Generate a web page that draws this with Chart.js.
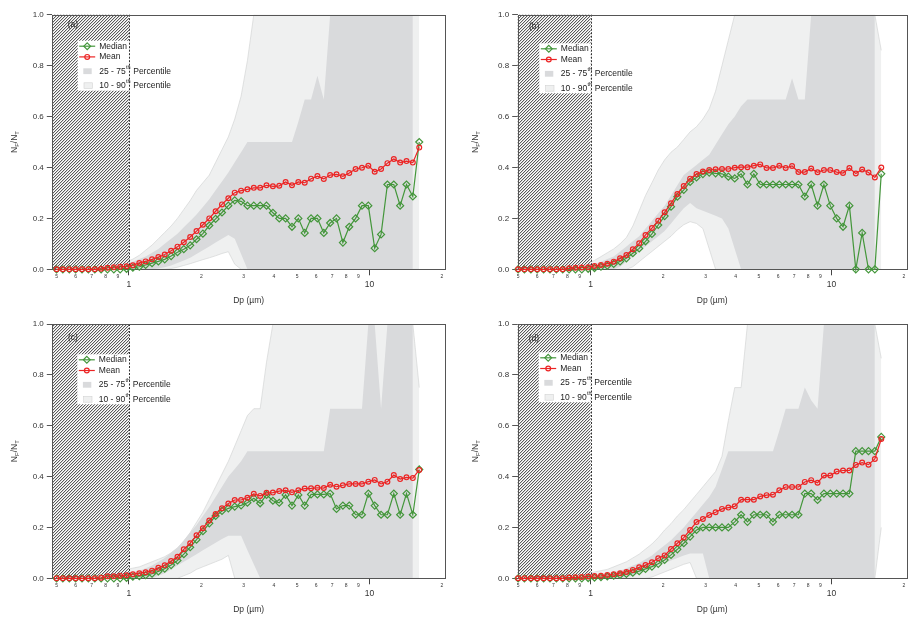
<!DOCTYPE html>
<html>
<head>
<meta charset="utf-8">
<script src="https://cdn.jsdelivr.net/npm/chart.js@4.4.1/dist/chart.umd.min.js"></script>
<style>
  html, body { margin: 0; padding: 0; background: #fff; }
  #wrap { position: relative; width: 912px; height: 619px; }
  #wrap canvas { position: absolute; }
</style>
</head>
<body>
<div id="wrap">
  <canvas id="pa" width="456" height="310" style="left:0;top:0"></canvas>
  <canvas id="pb" width="456" height="310" style="left:456px;top:0"></canvas>
  <canvas id="pc" width="456" height="309" style="left:0;top:310px"></canvas>
  <canvas id="pd" width="456" height="309" style="left:456px;top:310px"></canvas>
</div>
<script>
const FONT = '"Liberation Sans", Arial, sans-serif';
const GREEN = '#43963a';
const RED = '#ec2424';
const LIGHT = '#eff0f0';
const DARK = '#d9dadc';

// size bins, µm
const dp = [
  0.500, 0.531, 0.565, 0.600, 0.638, 0.678, 0.721, 0.766, 0.814, 0.865, 0.919, 0.977,
  1.038, 1.104, 1.173, 1.247, 1.325, 1.408, 1.497, 1.591, 1.690, 1.797, 1.909, 2.029,
  2.157, 2.292, 2.436, 2.589, 2.752, 2.925, 3.108, 3.303, 3.511, 3.731, 3.966, 4.215,
  4.480, 4.761, 5.060, 5.378, 5.715, 6.074, 6.456, 6.861, 7.292, 7.750, 8.237, 8.754,
  9.304, 9.888, 10.51, 11.17, 11.87, 12.62, 13.41, 14.25, 15.14, 16.10
];
const xTicks = [0.5, 0.6, 0.7, 0.8, 0.9, 1, 2, 3, 4, 5, 6, 7, 8, 9, 10, 20];

// (a)
const meanA = [
  0, 0, 0, 0, 0, 0, 0, 0.002, 0.006, 0.008, 0.010, 0.012,
  0.016, 0.025, 0.031, 0.039, 0.048, 0.058, 0.073, 0.089, 0.106, 0.127, 0.150, 0.175,
  0.200, 0.228, 0.255, 0.279, 0.301, 0.309, 0.314, 0.320, 0.320, 0.330, 0.326, 0.328,
  0.343, 0.330, 0.343, 0.340, 0.356, 0.366, 0.355, 0.370, 0.373, 0.365, 0.378, 0.394,
  0.399, 0.407, 0.383, 0.394, 0.417, 0.433, 0.419, 0.425, 0.419, 0.478
];
const medianA = [
  0, 0, 0, 0, 0, 0, 0, 0, 0, 0, 0, 0.002,
  0.006, 0.010, 0.017, 0.024, 0.031, 0.039, 0.052, 0.067, 0.079, 0.094, 0.118, 0.140,
  0.172, 0.198, 0.223, 0.250, 0.271, 0.267, 0.250, 0.250, 0.250, 0.250, 0.222, 0.200,
  0.200, 0.167, 0.200, 0.143, 0.200, 0.200, 0.143, 0.182, 0.200, 0.105, 0.167, 0.200,
  0.250, 0.250, 0.083, 0.137, 0.333, 0.333, 0.250, 0.333, 0.286, 0.500
];
const p10A = [
  0, 0, 0, 0, 0, 0, 0, 0, 0, 0, 0, 0,
  0, 0, 0, 0, 0, 0, 0.003, 0.008, 0.015, 0.022, 0.030, 0.038,
  0.045, 0.053, 0.062, 0.069, 0.020, 0, 0, 0, 0, 0, 0, 0,
  0, 0, 0, 0, 0, 0, 0, 0, 0, 0, 0, 0,
  0, 0, 0, 0, 0, 0, 0, 0, 0, 0
];
const p25A = [
  0, 0, 0, 0, 0, 0, 0, 0, 0, 0, 0, 0,
  0, 0, 0, 0, 0.003, 0.008, 0.015, 0.025, 0.035, 0.045, 0.060, 0.075,
  0.090, 0.105, 0.120, 0.135, 0.120, 0.060, 0, 0, 0, 0, 0, 0,
  0, 0, 0, 0, 0, 0, 0, 0, 0, 0, 0, 0,
  0, 0, 0, 0, 0, 0, 0, 0, 0, null
];
const p75A = [
  0, 0, 0, 0, 0, 0, 0, 0.005, 0.010, 0.015, 0.020, 0.025,
  0.030, 0.040, 0.050, 0.065, 0.080, 0.100, 0.120, 0.140, 0.165, 0.190, 0.215, 0.245,
  0.275, 0.310, 0.345, 0.380, 0.420, 0.460, 0.5, 0.5, 0.5, 0.5, 0.5, 0.5,
  0.5, 0.5, 0.58, 0.667, 0.667, 0.76, 0.667, 1, 1, 1, 1, 1,
  1, 1, 1, 1, 1, 1, 1, 1, 1, null
];
const p90A = [
  0, 0, 0, 0, 0, 0, 0.005, 0.010, 0.015, 0.020, 0.025, 0.030,
  0.040, 0.055, 0.075, 0.095, 0.120, 0.145, 0.170, 0.200, 0.235, 0.270, 0.310, 0.340,
  0.370, 0.420, 0.470, 0.520, 0.590, 0.680, 0.820, 1, 1, 1, 1, 1,
  1, 1, 1, 1, 1, 1, 1, 1, 1, 1, 1, 1,
  1, 1, 1, 1, 1, 1, 1, 1, 1, 1
];

// (b)
const meanB = [
  0, 0, 0, 0, 0, 0, 0, 0, 0.004, 0.006, 0.007, 0.008,
  0.013, 0.017, 0.022, 0.030, 0.043, 0.056, 0.079, 0.102, 0.135, 0.162, 0.191, 0.224,
  0.259, 0.296, 0.327, 0.356, 0.374, 0.384, 0.390, 0.393, 0.394, 0.394, 0.399, 0.401,
  0.401, 0.407, 0.412, 0.398, 0.398, 0.407, 0.398, 0.406, 0.382, 0.382, 0.396, 0.381,
  0.390, 0.390, 0.382, 0.378, 0.398, 0.376, 0.392, 0.380, 0.361, 0.400
];
const medianB = [
  0, 0, 0, 0, 0, 0, 0, 0, 0, 0, 0, 0.002,
  0.005, 0.010, 0.014, 0.021, 0.031, 0.043, 0.063, 0.082, 0.110, 0.139, 0.174, 0.209,
  0.246, 0.285, 0.312, 0.343, 0.361, 0.374, 0.380, 0.377, 0.375, 0.364, 0.357, 0.375,
  0.333, 0.375, 0.333, 0.333, 0.333, 0.333, 0.333, 0.333, 0.333, 0.286, 0.333, 0.250,
  0.333, 0.250, 0.200, 0.167, 0.250, 0, 0.143, 0, 0, 0.375
];
const p10B = [
  0, 0, 0, 0, 0, 0, 0, 0, 0, 0, 0, 0,
  0, 0, 0, 0, 0, 0, 0.010, 0.030, 0.050, 0.070, 0.090, 0.110,
  0.130, 0.155, 0.175, 0.187, 0.180, 0.160, 0.080, 0, 0, 0, 0, 0,
  0, 0, 0, 0, 0, 0, 0, 0, 0, 0, 0, 0,
  0, 0, 0, 0, 0, 0, 0, 0, 0, 0
];
const p25B = [
  0, 0, 0, 0, 0, 0, 0, 0, 0, 0, 0, 0,
  0, 0, 0, 0, 0.010, 0.030, 0.050, 0.070, 0.090, 0.110, 0.130, 0.150,
  0.180, 0.210, 0.240, 0.260, 0.240, 0.230, 0.220, 0.210, 0.200, 0.160, 0.080, 0,
  0, 0, 0, 0, 0, 0, 0, 0, 0, 0, 0, 0,
  0, 0, 0, 0, 0, 0, 0, 0, 0, null
];
const p75B = [
  0, 0, 0, 0, 0, 0, 0, 0.004, 0.008, 0.010, 0.012, 0.015,
  0.020, 0.030, 0.040, 0.050, 0.070, 0.090, 0.110, 0.130, 0.160, 0.190, 0.220, 0.250,
  0.290, 0.330, 0.370, 0.390, 0.410, 0.430, 0.450, 0.490, 0.530, 0.570, 0.600, 0.640,
  0.667, 0.667, 0.667, 0.667, 0.667, 0.667, 0.667, 0.75, 0.667, 0.667, 1, 1,
  1, 1, 1, 1, 1, 1, 1, 1, 1, null
];
const p90B = [
  0, 0, 0, 0, 0, 0, 0.004, 0.008, 0.012, 0.016, 0.020, 0.025,
  0.035, 0.050, 0.065, 0.080, 0.100, 0.125, 0.170, 0.230, 0.290, 0.340, 0.390, 0.430,
  0.460, 0.480, 0.510, 0.540, 0.560, 0.590, 0.630, 0.700, 0.800, 0.900, 1, 1,
  1, 1, 1, 1, 1, 1, 1, 1, 1, 1, 1, 1,
  1, 1, 1, 1, 1, 1, 1, 1, 1, 0.86
];

// (c)
const meanC = [
  0, 0, 0, 0, 0, 0, 0, 0.002, 0.008, 0.008, 0.010, 0.012,
  0.016, 0.020, 0.024, 0.030, 0.041, 0.051, 0.068, 0.085, 0.114, 0.138, 0.169, 0.197,
  0.227, 0.253, 0.275, 0.294, 0.308, 0.308, 0.317, 0.332, 0.324, 0.336, 0.337, 0.343,
  0.346, 0.338, 0.346, 0.353, 0.354, 0.356, 0.355, 0.368, 0.360, 0.366, 0.371, 0.371,
  0.371, 0.380, 0.387, 0.371, 0.380, 0.406, 0.390, 0.397, 0.394, 0.426
];
const medianC = [
  0, 0, 0, 0, 0, 0, 0, 0, 0, 0, 0, 0.002,
  0.006, 0.008, 0.012, 0.018, 0.027, 0.038, 0.052, 0.070, 0.095, 0.122, 0.152, 0.185,
  0.216, 0.245, 0.265, 0.275, 0.282, 0.287, 0.297, 0.315, 0.295, 0.328, 0.305, 0.297,
  0.328, 0.286, 0.328, 0.286, 0.330, 0.330, 0.330, 0.333, 0.273, 0.286, 0.286, 0.250,
  0.250, 0.333, 0.286, 0.250, 0.250, 0.333, 0.250, 0.333, 0.250, 0.428
];
const p10C = [
  0, 0, 0, 0, 0, 0, 0, 0, 0, 0, 0, 0,
  0, 0, 0, 0, 0, 0, 0, 0, 0.010, 0.020, 0.035, 0.045,
  0.055, 0.065, 0.075, 0.090, 0, 0, 0, 0, 0, 0, 0, 0,
  0, 0, 0, 0, 0, 0, 0, 0, 0, 0, 0, 0,
  0, 0, 0, 0, 0, 0, 0, 0, 0, 0
];
const p25C = [
  0, 0, 0, 0, 0, 0, 0, 0, 0, 0, 0, 0,
  0, 0, 0, 0, 0.010, 0.020, 0.035, 0.050, 0.065, 0.080, 0.095, 0.110,
  0.125, 0.140, 0.155, 0.167, 0.167, 0.167, 0.110, 0.055, 0, 0, 0, 0,
  0, 0, 0, 0, 0, 0, 0, 0, 0, 0, 0, 0,
  0, 0, 0, 0, 0, 0, 0, 0, 0, null
];
const p75C = [
  0, 0, 0, 0, 0, 0, 0, 0.005, 0.010, 0.015, 0.018, 0.022,
  0.025, 0.030, 0.040, 0.050, 0.065, 0.080, 0.100, 0.120, 0.150, 0.180, 0.210, 0.245,
  0.280, 0.320, 0.360, 0.400, 0.430, 0.460, 0.5, 0.5, 0.5, 0.5, 0.5, 0.5,
  0.5, 0.5, 0.5, 0.5, 0.5, 0.5, 0.5, 0.667, 0.667, 0.667, 0.667, 0.667,
  0.667, 1, 1, 0.667, 1, 1, 1, 1, 1, null
];
const p90C = [
  0, 0, 0, 0, 0, 0, 0.005, 0.010, 0.015, 0.020, 0.030, 0.035,
  0.040, 0.045, 0.055, 0.065, 0.075, 0.085, 0.100, 0.120, 0.145, 0.180, 0.220, 0.260,
  0.310, 0.360, 0.410, 0.460, 0.520, 0.580, 0.640, 0.667, 0.667, 0.850, 1, 1,
  1, 1, 1, 1, 1, 1, 1, 1, 1, 1, 1, 1,
  1, 1, 1, 1, 1, 1, 1, 1, 1, 0.75
];

// (d)
const meanD = [
  0, 0, 0, 0, 0, 0, 0, 0, 0.003, 0.004, 0.005, 0.007,
  0.009, 0.010, 0.013, 0.016, 0.020, 0.025, 0.033, 0.043, 0.052, 0.063, 0.079, 0.090,
  0.115, 0.138, 0.160, 0.190, 0.221, 0.233, 0.249, 0.260, 0.273, 0.278, 0.283, 0.309,
  0.309, 0.309, 0.322, 0.327, 0.329, 0.346, 0.359, 0.359, 0.359, 0.379, 0.386, 0.376,
  0.404, 0.404, 0.420, 0.424, 0.424, 0.446, 0.455, 0.447, 0.469, 0.548
];
const medianD = [
  0, 0, 0, 0, 0, 0, 0, 0, 0, 0, 0, 0.001,
  0.003, 0.005, 0.007, 0.010, 0.013, 0.017, 0.022, 0.028, 0.037, 0.046, 0.057, 0.072,
  0.092, 0.114, 0.138, 0.164, 0.190, 0.200, 0.200, 0.200, 0.200, 0.200, 0.222, 0.250,
  0.222, 0.250, 0.250, 0.250, 0.222, 0.250, 0.250, 0.250, 0.250, 0.333, 0.333, 0.308,
  0.333, 0.333, 0.333, 0.333, 0.333, 0.500, 0.500, 0.500, 0.500, 0.556
];
const p10D = [
  0, 0, 0, 0, 0, 0, 0, 0, 0, 0, 0, 0,
  0, 0, 0, 0, 0, 0, 0, 0, 0, 0.005, 0.015, 0.025,
  0.035, 0.045, 0.055, 0.062, 0, 0, 0, 0, 0, 0, 0, 0,
  0, 0, 0, 0, 0, 0, 0, 0, 0, 0, 0, 0,
  0, 0, 0, 0, 0, 0, 0, 0, 0, 0.2
];
const p25D = [
  0, 0, 0, 0, 0, 0, 0, 0, 0, 0, 0, 0,
  0, 0, 0, 0, 0, 0.005, 0.010, 0.020, 0.030, 0.040, 0.050, 0.060,
  0.070, 0.080, 0.090, 0.098, 0.098, 0.098, 0, 0, 0, 0, 0, 0,
  0, 0, 0, 0, 0, 0, 0, 0, 0, 0, 0, 0,
  0, 0, 0, 0, 0, 0, 0, 0, 0, null
];
const p75D = [
  0, 0, 0, 0, 0, 0, 0, 0, 0.004, 0.006, 0.008, 0.009,
  0.010, 0.015, 0.020, 0.025, 0.030, 0.040, 0.050, 0.060, 0.075, 0.090, 0.110, 0.130,
  0.150, 0.175, 0.200, 0.230, 0.260, 0.290, 0.320, 0.360, 0.430, 0.5, 0.5, 0.5,
  0.5, 0.5, 0.5, 0.5, 0.5, 0.58, 0.667, 0.667, 0.667, 0.75, 0.70, 0.667,
  1, 1, 1, 1, 1, 1, 1, 1, 1, null
];
const p90D = [
  0, 0, 0, 0, 0, 0, 0, 0.004, 0.008, 0.012, 0.016, 0.020,
  0.025, 0.030, 0.035, 0.045, 0.055, 0.065, 0.080, 0.095, 0.115, 0.135, 0.160, 0.190,
  0.215, 0.245, 0.270, 0.300, 0.330, 0.360, 0.390, 0.420, 0.480, 0.620, 0.750, 0.750,
  1, 1, 1, 1, 1, 1, 1, 1, 1, 1, 1, 1,
  1, 1, 1, 1, 1, 1, 1, 1, 1, 0.865
];

// panel layout (canvas-local pixels)
const panels = [
  { id: 'pa', tag: '(a)', mean: meanA, median: medianA, p10: p10A, p25: p25A, p75: p75A, p90: p90A,
    w: 456, h: 310, left: 52.3, right: 445, top: 14.7, bottom: 269.3, xMin: 0.48, xMax: 20.6,
    yTitleX: 15, legend: [77.7, 40.7], tagPos: [67.7, 24.7] },
  { id: 'pb', tag: '(b)', mean: meanB, median: medianB, p10: p10B, p25: p25B, p75: p75B, p90: p90B,
    w: 456, h: 310, left: 61.7, right: 452.7, top: 14.7, bottom: 269.3, xMin: 0.498, xMax: 20.55,
    yTitleX: 20, legend: [83.3, 43.3], tagPos: [73, 26.7] },
  { id: 'pc', tag: '(c)', mean: meanC, median: medianC, p10: p10C, p25: p25C, p75: p75C, p90: p90C,
    w: 456, h: 309, left: 52.3, right: 445, top: 14, bottom: 268.3, xMin: 0.48, xMax: 20.6,
    yTitleX: 15, legend: [77.3, 44.3], tagPos: [68, 27.7] },
  { id: 'pd', tag: '(d)', mean: meanD, median: medianD, p10: p10D, p25: p25D, p75: p75D, p90: p90D,
    w: 456, h: 309, left: 61.7, right: 452.7, top: 14, bottom: 268.3, xMin: 0.498, xMax: 20.55,
    yTitleX: 20, legend: [82.7, 42.3], tagPos: [72.7, 29] }
];
const panelById = {};
panels.forEach(p => { panelById[p.id] = p; });

// fine "////" hatch tile for the sub-micron zone
function hatchTile() {
  const c = document.createElement('canvas');
  c.width = 3; c.height = 3;
  const g = c.getContext('2d');
  g.fillStyle = '#fff';
  g.fillRect(0, 0, 3, 3);
  for (let y = 0; y < 3; y++) {
    g.fillStyle = '#5a5a5a';
    g.fillRect((5 - y) % 3, y, 1, 1);
    g.fillStyle = '#d4d4d4';
    g.fillRect((3 - y) % 3, y, 1, 1);
  }
  return c;
}
const HATCH = hatchTile();

function diamond(ctx, x, y, r) {
  ctx.beginPath();
  ctx.moveTo(x, y - r); ctx.lineTo(x + r, y); ctx.lineTo(x, y + r); ctx.lineTo(x - r, y);
  ctx.closePath();
  ctx.stroke();
}

function supText(ctx, x, y, pre, sup, post) {
  ctx.font = '8.5px ' + FONT;
  ctx.fillText(pre, x, y);
  x += ctx.measureText(pre).width + 0.3;
  ctx.font = '5.5px ' + FONT;
  ctx.fillText(sup, x, y - 4);
  x += ctx.measureText(sup).width + 0.3;
  ctx.font = '8.5px ' + FONT;
  ctx.fillText(post, x, y);
}

function drawLegend(ctx, p, cut) {
  const [lx, ly] = p.legend;
  ctx.fillStyle = '#fff';
  ctx.fillRect(lx, ly, cut - lx, 50);
  ctx.textBaseline = 'middle';
  ctx.textAlign = 'left';
  const tx = lx + 21.5;

  let y = ly + 5.5;
  ctx.strokeStyle = GREEN; ctx.lineWidth = 1.2;
  ctx.beginPath(); ctx.moveTo(lx + 1.5, y); ctx.lineTo(lx + 17.5, y); ctx.stroke();
  diamond(ctx, lx + 9.5, y, 3.4);
  ctx.fillStyle = '#222'; ctx.font = '8.5px ' + FONT;
  ctx.fillText('Median', tx, y);

  y = ly + 16.2;
  ctx.strokeStyle = RED;
  ctx.beginPath(); ctx.moveTo(lx + 1.5, y); ctx.lineTo(lx + 17.5, y); ctx.stroke();
  ctx.beginPath(); ctx.arc(lx + 9.5, y, 2.4, 0, Math.PI * 2); ctx.stroke();
  ctx.fillText('Mean', tx, y);

  y = ly + 30.5;
  ctx.fillStyle = DARK;
  ctx.fillRect(lx + 5.6, y - 2.9, 8.4, 5.8);
  ctx.fillStyle = '#222';
  supText(ctx, tx, y, '25 - 75', 'th', ' Percentile');

  y = ly + 45;
  ctx.fillStyle = LIGHT;
  ctx.fillRect(lx + 6.3, y - 2.9, 8.4, 5.8);
  ctx.strokeStyle = '#d2d2d2'; ctx.lineWidth = 0.6;
  ctx.strokeRect(lx + 6.3, y - 2.9, 8.4, 5.8);
  ctx.fillStyle = '#222';
  supText(ctx, tx, y, '10 - 90', 'th', ' Percentile');
}

function drawYTitle(ctx, x, y) {
  const big = '8.5px ' + FONT, small = '6px ' + FONT;
  const parts = [['N', big, 0], ['F', small, 2.6], ['/N', big, 0], ['T', small, 2.6]];
  ctx.save();
  ctx.translate(x, y);
  ctx.rotate(-Math.PI / 2);
  ctx.textBaseline = 'middle';
  ctx.textAlign = 'left';
  ctx.fillStyle = '#333';
  let total = 0;
  parts.forEach(([t, f]) => { ctx.font = f; total += ctx.measureText(t).width; });
  let cx = -total / 2;
  parts.forEach(([t, f, dy]) => {
    ctx.font = f;
    ctx.fillText(t, cx, dy);
    cx += ctx.measureText(t).width;
  });
  ctx.restore();
}

// hatch, frame, legend and panel tag go in right before the median line
const panelDecor = {
  id: 'panelDecor',
  beforeDatasetDraw(chart, args) {
    if (args.index !== 4) return;
    const p = panelById[chart.canvas.id];
    const ctx = chart.ctx;
    const ca = chart.chartArea;
    const cut = chart.scales.x.getPixelForValue(1);
    ctx.save();
    ctx.fillStyle = ctx.createPattern(HATCH, 'repeat');
    ctx.fillRect(ca.left, ca.top, cut - ca.left, ca.bottom - ca.top);

    drawLegend(ctx, p, cut);

    ctx.fillStyle = '#222';
    ctx.font = '8.5px ' + FONT;
    ctx.textBaseline = 'middle';
    ctx.fillText(p.tag, p.tagPos[0], p.tagPos[1]);

    const cx = Math.round(cut) + 0.5;
    ctx.strokeStyle = '#333';
    ctx.lineWidth = 1;
    ctx.setLineDash([2, 1.5]);
    ctx.beginPath(); ctx.moveTo(cx, ca.top); ctx.lineTo(cx, ca.bottom); ctx.stroke();
    ctx.setLineDash([]);

    const L = Math.round(ca.left) + 0.5, R = Math.round(ca.right) + 0.5;
    const T = Math.round(ca.top) + 0.5, B = Math.round(ca.bottom) + 0.5;
    ctx.strokeStyle = '#555';
    ctx.strokeRect(L, T, R - L, B - T);
    ctx.restore();
  },
  afterDraw(chart) {
    const p = panelById[chart.canvas.id];
    const ca = chart.chartArea;
    drawYTitle(chart.ctx, p.yTitleX, (ca.top + ca.bottom) / 2);
  }
};

const isMajor = t => !!t && (t.value === 1 || t.value === 10);

function tickLabel(v) {
  if (v === 1) return '1';
  if (v === 10) return '10';
  if (v === 20) return '2';
  if (v < 1) return String(Math.round(v * 10));
  return String(v);
}

function pts(arr) {
  return dp.map((d, i) => ({ x: d, y: arr[i] }));
}

function buildChart(p) {
  const band = (arr, color, fill, order, edge) => ({
    data: pts(arr), order: order,
    borderColor: edge || 'rgba(0,0,0,0)', borderWidth: edge ? 0.6 : 1,
    backgroundColor: color, fill: fill, pointRadius: 0, tension: 0
  });
  new Chart(document.getElementById(p.id), {
    type: 'line',
    data: {
      datasets: [
        band(p.p90, LIGHT, '+1', 6, '#cfd0d0'),
        band(p.p10, LIGHT, false, 5, '#cfd0d0'),
        band(p.p75, DARK, '+1', 4),
        band(p.p25, DARK, false, 3),
        {
          label: 'Median', data: pts(p.median), order: 2, clip: false,
          borderColor: GREEN, borderWidth: 1.2, fill: false, tension: 0,
          pointStyle: 'rectRot', pointRadius: 3.5, pointBorderWidth: 1.2,
          pointBorderColor: GREEN, pointBackgroundColor: 'rgba(0,0,0,0)'
        },
        {
          label: 'Mean', data: pts(p.mean), order: 1, clip: false,
          borderColor: RED, borderWidth: 1.2, fill: false, tension: 0,
          pointStyle: 'circle', pointRadius: 2.4, pointBorderWidth: 1.2,
          pointBorderColor: RED, pointBackgroundColor: 'rgba(0,0,0,0)'
        }
      ]
    },
    options: {
      responsive: false,
      devicePixelRatio: 1,
      animation: false,
      events: [],
      layout: { padding: { top: p.top, right: p.w - p.right, left: 0, bottom: 0 } },
      plugins: {
        legend: { display: false },
        tooltip: { enabled: false },
        filler: { propagate: false }
      },
      scales: {
        x: {
          type: 'logarithmic',
          min: p.xMin, max: p.xMax,
          afterBuildTicks: s => { s.ticks = xTicks.map(v => ({ value: v })); },
          afterFit: s => { s.height = p.h - p.bottom; },
          border: { display: false },
          grid: {
            drawOnChartArea: false, tickLength: 6, tickWidth: 1,
            tickColor: c => isMajor(c.tick) ? '#444' : 'rgba(0,0,0,0)'
          },
          ticks: {
            autoSkip: false, maxRotation: 0, padding: -3, color: '#333',
            callback: v => tickLabel(v),
            font: c => isMajor(c.tick) ? { size: 8.5, lineHeight: 3 } : { size: 5, lineHeight: 1.8 }
          },
          title: {
            display: true, text: 'Dp (µm)', color: '#333',
            font: { size: 8.5 }, padding: { top: 0, bottom: 4 }
          }
        },
        y: {
          min: 0, max: 1,
          afterFit: s => { s.width = p.left; },
          border: { display: false },
          grid: { drawOnChartArea: false, tickLength: 5.5, color: '#555' },
          ticks: {
            stepSize: 0.2, padding: 3, color: '#333', font: { size: 8 },
            callback: v => v.toFixed(1)
          }
        }
      }
    },
    plugins: [panelDecor]
  });
}

Chart.defaults.font.family = FONT;
panels.forEach(buildChart);
</script>
</body>
</html>
